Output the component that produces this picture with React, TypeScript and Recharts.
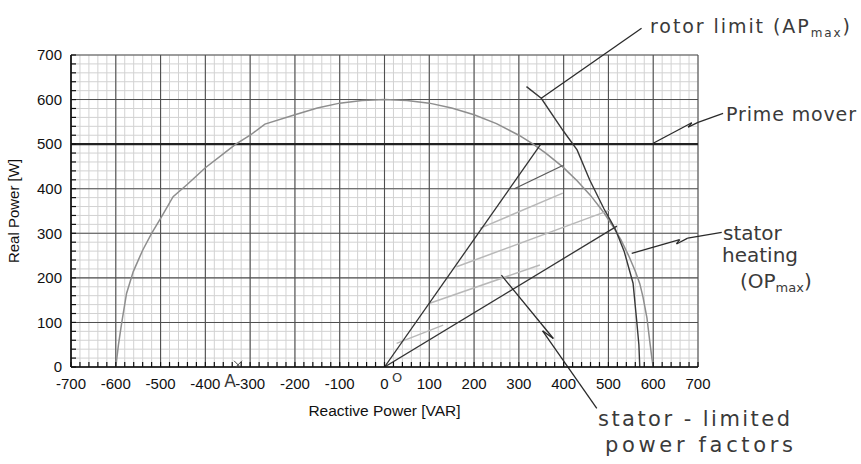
import React from 'react';
import { ComposedChart, Line, XAxis, YAxis, CartesianGrid, ReferenceLine, Scatter } from 'recharts';

// ---------- axis ticks ----------
const xMajorTicks = [-700, -600, -500, -400, -300, -200, -100, 0, 100, 200, 300, 400, 500, 600, 700];
const yMajorTicks = [0, 100, 200, 300, 400, 500, 600, 700];
const minorStep = 20;
const subdivide = (major: number[], step: number) => {
  const out: number[] = [];
  for (let i = 0; i < major.length - 1; i++) {
    for (let v = major[i]; v < major[i + 1]; v += step) out.push(v);
  }
  out.push(major[major.length - 1]);
  return out;
};
const xMinorTicks = subdivide(xMajorTicks, minorStep);
const yMinorTicks = subdivide(yMajorTicks, minorStep);

// ---------- data (Q = reactive power [VAR], P = real power [W]) ----------
const statorHeatingQ = [-600, -594, -587, -576, -561, -540, -520, -496, -472, -440, -400, -360, -332, -300, -267, -200, -150, -100, -50, 0, 50, 100, 150, 200, 250, 300, 332, 360, 398, 430, 460, 490, 511, 528, 546, 560, 570, 577, 586, 592, 597, 600];
const statorHeatingP = [0, 50, 98, 165, 214, 262, 300, 340, 382, 410, 447, 478, 500, 520, 545, 566, 581, 592, 598, 600, 598, 592, 581, 566, 546, 520, 500, 480, 449, 418, 385, 346, 314, 285, 248, 215, 187, 158, 110, 60, 20, 0];

const rotorLimitQ = [317, 350, 399, 430, 458, 490, 515, 535, 555, 563, 568, 570];
const rotorLimitP = [629, 603, 530, 487, 420, 355, 310, 260, 188, 105, 50, 0];

const primeMoverQ = [-700, 700];
const primeMoverP = [500, 500];

const pfDarkRay1Q = [0, 349];
const pfDarkRay1P = [0, 500];
const pfDarkRay2Q = [0, 519];
const pfDarkRay2P = [0, 316];
const pfMediumQ = [290, 398];
const pfMediumP = [400, 452];
const pfLight1Q = [213, 398];
const pfLight1P = [311, 390];
const pfLight2Q = [161, 503];
const pfLight2P = [225, 352];
const pfLight3Q = [101, 347];
const pfLight3P = [143, 229];
const pfLight4Q = [27, 131];
const pfLight4P = [53, 94];

const markQ = [-327];
const markP = [5];

// annotation pointer polylines (data coordinates)
const rotorPointerQ = [350, 574];
const rotorPointerP = [603, 760];
const primePointerQ = [600, 686, 678, 700, 756];
const primePointerP = [502, 548, 538, 549, 569];
const heatingPointerQ = [552, 659, 652, 677, 753];
const heatingPointerP = [255, 286, 276, 289, 302];
const pfPointerQ = [261, 377, 353, 474];
const pfPointerP = [206, 64, 81, -93];

const zip = (q: number[], p: number[]) => q.map((v, i) => ({ q: v, p: p[i] }));

const statorHeating = zip(statorHeatingQ, statorHeatingP);
const rotorLimit = zip(rotorLimitQ, rotorLimitP);
const primeMover = zip(primeMoverQ, primeMoverP);
const darkRays = [zip(pfDarkRay1Q, pfDarkRay1P), zip(pfDarkRay2Q, pfDarkRay2P)];
const mediumSegs = [zip(pfMediumQ, pfMediumP)];
const lightSegs = [zip(pfLight1Q, pfLight1P), zip(pfLight2Q, pfLight2P), zip(pfLight3Q, pfLight3P), zip(pfLight4Q, pfLight4P)];
const marks = zip(markQ, markP);
const pointers = [
  zip(rotorPointerQ, rotorPointerP),
  zip(primePointerQ, primePointerP),
  zip(heatingPointerQ, heatingPointerP),
  zip(pfPointerQ, pfPointerP),
];

const FONT = '"Liberation Sans", Arial, Helvetica, sans-serif';
const HAND = '"DejaVu Sans", "Liberation Sans", sans-serif';
const TICK_LEN = 5;

const BottomTick = (props: any) => {
  const { x, y, payload } = props;
  const v = payload.value;
  return (
    <g>
      <line x1={x} y1={y} x2={x} y2={y - TICK_LEN} stroke="#111" strokeWidth={1.2} />
      {v % 100 === 0 && (
        <text x={x} y={y + 22} textAnchor="middle" fontSize={15} fontFamily={FONT} fill="#111">{v}</text>
      )}
    </g>
  );
};
const TopTick = (props: any) => {
  const { x, y } = props;
  return <line x1={x} y1={y} x2={x} y2={y + TICK_LEN} stroke="#111" strokeWidth={1.2} />;
};
const LeftTick = (props: any) => {
  const { x, y, payload } = props;
  const v = payload.value;
  return (
    <g>
      <line x1={x} y1={y} x2={x + TICK_LEN} y2={y} stroke="#111" strokeWidth={1.2} />
      {v % 100 === 0 && (
        <text x={x - 9} y={y + 5.3} textAnchor="end" fontSize={15} fontFamily={FONT} fill="#111">{v}</text>
      )}
    </g>
  );
};
const RightTick = (props: any) => {
  const { x, y } = props;
  return <line x1={x} y1={y} x2={x - TICK_LEN} y2={y} stroke="#111" strokeWidth={1.2} />;
};

const XMark = (props: any) => {
  const { cx, cy } = props;
  return (
    <g stroke="#444" strokeWidth={1}>
      <line x1={cx - 4} y1={cy - 4} x2={cx + 4} y2={cy + 4} />
      <line x1={cx - 4} y1={cy + 4} x2={cx + 4} y2={cy - 4} />
    </g>
  );
};

export default function App() {
  const axisLine = { stroke: '#111', strokeWidth: 1.6 };
  return (
    <div style={{ position: 'absolute', left: 0, top: 0, width: 861, height: 464, background: '#fff' }}>
      <ComposedChart width={861} height={464} margin={{ top: 55, right: 163, bottom: 67, left: 9 }}>
        <CartesianGrid verticalValues={xMinorTicks} horizontalValues={yMinorTicks} stroke="#d2d2d2" strokeWidth={1} />
        <CartesianGrid verticalValues={xMajorTicks} horizontalValues={yMajorTicks} stroke="#505050" strokeWidth={1.1} />
        <XAxis type="number" dataKey="q" domain={[-700, 700]} ticks={xMinorTicks} interval={0} height={30}
          tickSize={0} tickMargin={0} tickLine={false} tick={<BottomTick />} axisLine={axisLine} allowDataOverflow />
        <XAxis xAxisId="top" orientation="top" type="number" dataKey="q" domain={[-700, 700]} ticks={xMinorTicks} interval={0} height={0}
          tickSize={0} tickMargin={0} tickLine={false} tick={<TopTick />} axisLine={axisLine} allowDataOverflow />
        <YAxis type="number" dataKey="p" domain={[0, 700]} ticks={yMinorTicks} interval={0} width={62}
          tickSize={0} tickMargin={0} tickLine={false} tick={<LeftTick />} axisLine={axisLine} allowDataOverflow />
        <YAxis yAxisId="right" orientation="right" type="number" dataKey="p" domain={[0, 700]} ticks={yMinorTicks} interval={0} width={0}
          tickSize={0} tickMargin={0} tickLine={false} tick={<RightTick />} axisLine={axisLine} allowDataOverflow />

        <Line data={primeMover} dataKey="p" type="linear" stroke="#222" strokeWidth={2.2} dot={false} isAnimationActive={false} />
        <Line data={statorHeating} dataKey="p" type="linear" stroke="#8e8e8e" strokeWidth={1.5} dot={false} isAnimationActive={false} />
        {lightSegs.map((d, i) => (
          <Line key={'l' + i} data={d} dataKey="p" type="linear" stroke="#b8b8b8" strokeWidth={1.5} dot={false} isAnimationActive={false} />
        ))}
        {mediumSegs.map((d, i) => (
          <Line key={'m' + i} data={d} dataKey="p" type="linear" stroke="#5a5a5a" strokeWidth={1.3} dot={false} isAnimationActive={false} />
        ))}
        {darkRays.map((d, i) => (
          <Line key={'d' + i} data={d} dataKey="p" type="linear" stroke="#333" strokeWidth={1.3} dot={false} isAnimationActive={false} />
        ))}
        <Line data={rotorLimit} dataKey="p" type="linear" stroke="#383838" strokeWidth={1.4} dot={false} isAnimationActive={false} />
        <Scatter data={marks} dataKey="p" shape={<XMark />} isAnimationActive={false} />

        {pointers.flatMap((pts, k) =>
          pts.slice(1).map((pt, i) => (
            <ReferenceLine key={'p' + k + '-' + i} segment={[{ x: pts[i].q, y: pts[i].p }, { x: pt.q, y: pt.p }]}
              ifOverflow="visible" stroke="#2a2a2a" strokeWidth={1.3} />
          ))
        )}
      </ComposedChart>

      <svg width={861} height={464} style={{ position: 'absolute', left: 0, top: 0, pointerEvents: 'none' }}>
        <text transform="translate(19,211) rotate(-90)" textAnchor="middle" fontSize={15} fontFamily={FONT} fill="#111">Real Power [W]</text>
        <text x={384.5} y={416} textAnchor="middle" fontSize={15.5} fontFamily={FONT} fill="#111">Reactive Power [VAR]</text>

        <g fontFamily={HAND} fill="#3a3a3a" fontSize={19}>
          <text x={650} y={33} textLength={200} lengthAdjust="spacing">rotor limit (AP<tspan fontSize={12} dy={4}>max</tspan><tspan dy={-4}>)</tspan></text>
          <text x={726} y={121} textLength={130} lengthAdjust="spacing">Prime mover</text>
          <text x={723} y={240} fontSize={20}>stator</text>
          <text x={722} y={262} fontSize={20}>heating</text>
          <text x={740} y={288} fontSize={20}>(OP<tspan fontSize={13} dy={4}>max</tspan><tspan dy={-4}>)</tspan></text>
          <text x={598} y={426} fontSize={21} textLength={192} lengthAdjust="spacing">stator - limited</text>
          <text x={605} y={452} fontSize={21} textLength={188} lengthAdjust="spacing">power factors</text>
          <text x={230} y={387} fontSize={17} textAnchor="middle">A</text>
          <text x={397} y={382} fontSize={13} textAnchor="middle">O</text>
        </g>
      </svg>
    </div>
  );
}
